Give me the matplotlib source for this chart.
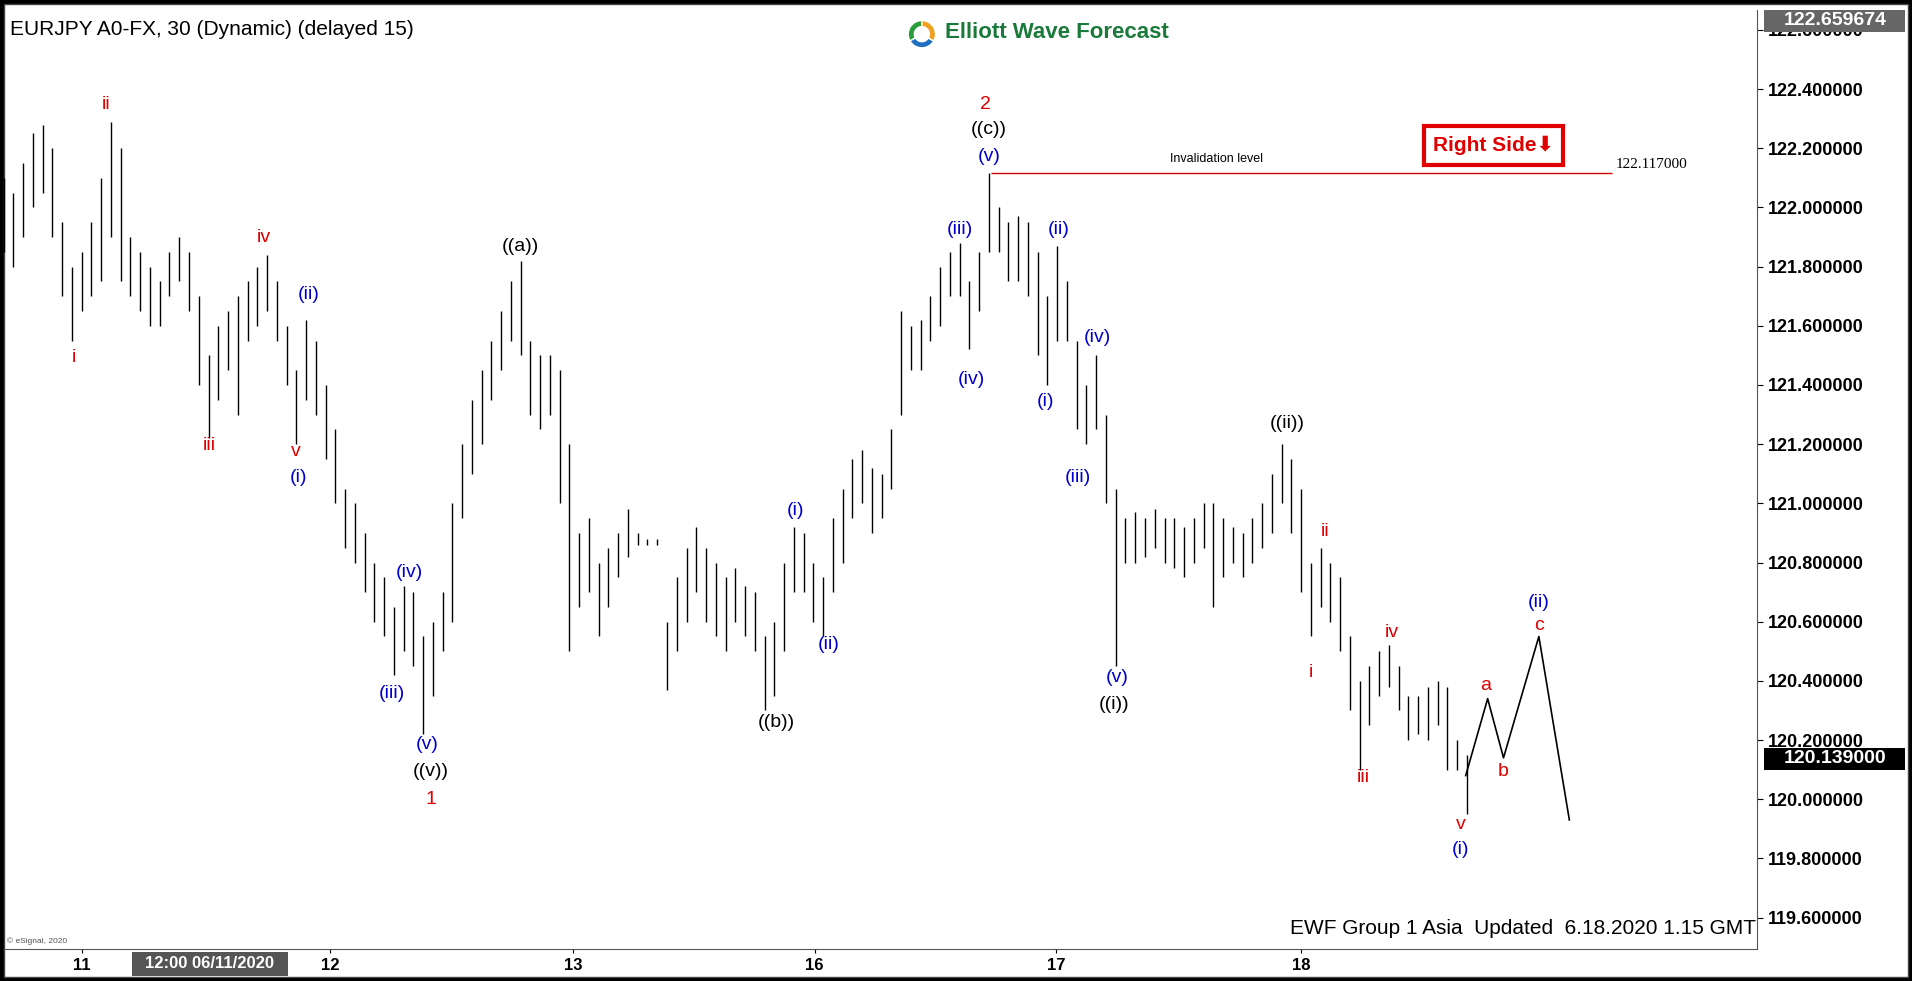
import matplotlib
matplotlib.use("Agg")
import matplotlib.pyplot as plt
from matplotlib.patches import Rectangle
import numpy as np

plt.rcParams['font.family'] = ['Liberation Sans', 'DejaVu Sans']

lows = [121.85,121.8,121.9,122.0,122.05,121.9,121.7,121.55,121.65,121.7,121.75,121.9,121.75,121.7,121.65,121.6,121.6,121.7,121.75,121.65,
        121.4,121.22,121.35,121.45,121.3,121.55,121.6,121.65,121.55,121.4,121.2,121.35,121.3,121.15,121.0,120.85,120.8,120.7,120.6,120.55,
        120.42,120.5,120.45,120.22,120.35,120.5,120.6,120.95,121.1,121.2,121.35,121.45,121.55,121.5,121.3,121.25,121.3,121.0,120.5,120.65,
        120.7,120.55,120.65,120.75,120.82,120.86,120.86,120.86,120.37,120.5,120.6,120.7,120.6,120.55,120.5,120.6,120.55,120.5,120.3,120.35,
        120.5,120.7,120.7,120.6,120.55,120.7,120.8,120.95,121.0,120.9,120.95,121.05,121.3,121.45,121.45,121.55,121.6,121.7,121.7,121.52,
        121.65,121.85,121.85,121.75,121.75,121.7,121.5,121.4,121.55,121.55,121.25,121.2,121.25,121.0,120.45,120.8,120.8,120.82,120.85,120.8,
        120.78,120.75,120.8,120.85,120.65,120.75,120.8,120.75,120.8,120.85,120.9,121.0,120.9,120.7,120.55,120.65,120.6,120.5,120.3,120.1,
        120.25,120.35,120.38,120.3,120.2,120.22,120.2,120.25,120.1,120.1,119.95]
highs = [122.1,122.05,122.15,122.25,122.28,122.2,121.95,121.8,121.85,121.95,122.1,122.29,122.2,121.9,121.85,121.8,121.75,121.85,121.9,121.85,
         121.7,121.5,121.6,121.65,121.7,121.75,121.8,121.84,121.75,121.6,121.45,121.62,121.55,121.4,121.25,121.05,121.0,120.9,120.8,120.75,
         120.65,120.72,120.7,120.55,120.6,120.7,121.0,121.2,121.35,121.45,121.55,121.65,121.75,121.82,121.55,121.5,121.5,121.45,121.2,120.9,
         120.95,120.8,120.85,120.9,120.98,120.9,120.88,120.88,120.6,120.75,120.85,120.92,120.85,120.8,120.75,120.78,120.72,120.7,120.55,120.6,
         120.8,120.92,120.9,120.8,120.75,120.95,121.05,121.15,121.18,121.12,121.1,121.25,121.65,121.6,121.62,121.7,121.8,121.85,121.88,121.75,
         121.85,122.117,122.0,121.95,121.97,121.95,121.85,121.7,121.87,121.75,121.55,121.4,121.5,121.3,121.05,120.95,120.97,120.95,120.98,120.95,
         120.95,120.92,120.95,121.0,121.0,120.95,120.92,120.9,120.95,121.0,121.1,121.2,121.15,121.05,120.8,120.85,120.8,120.75,120.55,120.4,
         120.45,120.5,120.52,120.45,120.35,120.35,120.38,120.4,120.38,120.2,120.15]
proj_x = [1202, 1220, 1233, 1262, 1287]
proj_y = [120.08, 120.34, 120.14, 120.55, 119.93]
yticks = [119.6,119.8,120.0,120.2,120.4,120.6,120.8,121.0,121.2,121.4,121.6,121.8,122.0,122.2,122.4,122.6]
day_ticks = [(67, "11"), (271, "12"), (470, "13"), (668, "16"), (866, "17"), (1067, "18")]
labels = [("ii",87,86,'r'),("i",61,293,'r'),("iv",216,195,'r'),("iii",172,365,'r'),("v",243,370,'r'),("(i)",245,391,'b'),
          ("(ii)",253,241,'b'),("(iv)",336,469,'b'),("(iii)",321,568,'b'),("(v)",350,610,'b'),("((v))",353,632,'k'),("1",353,655,'r'),
          ("((a))",427,202,'k'),("((b))",637,592,'k'),("(i)",652,418,'b'),("(ii)",680,528,'b'),("(iii)",787,188,'b'),("(iv)",797,311,'b'),
          ("(v)",811,128,'b'),("((c))",811,106,'k'),("2",808,86,'r'),("(ii)",868,188,'b'),("(i)",857,329,'b'),("(iv)",900,277,'b'),
          ("(iii)",884,391,'b'),("(v)",916,555,'b'),("((i))",914,577,'k'),("((ii))",1056,347,'k'),("ii",1087,436,'r'),("i",1075,551,'r'),
          ("iv",1141,518,'r'),("iii",1118,637,'r'),("v",1198,676,'r'),("(i)",1198,696,'b'),("a",1218,562,'r'),("b",1233,632,'r'),
          ("c",1262,513,'r'),("(ii)",1262,494,'b')]
cols = {'r': '#e00000', 'b': '#0000cc', 'k': 'black'}

W, H = 1568, 804
fig = plt.figure(figsize=(19.12, 9.81), dpi=100, facecolor='black')
def fx(x): return x / W
def fy(y): return 1 - y / H

fig.patches.append(Rectangle((fx(3), fy(801)), fx(1562), 798 / H, transform=fig.transFigure,
                             facecolor='white', edgecolor='#444', lw=1, zorder=-5))
ax = fig.add_axes([fx(3), fy(778), fx(1441 - 3), (778 - 8) / H])
ax.set_zorder(1)
ax.patch.set_alpha(0)
xs = [3 + 8 * i for i in range(len(lows))]
ax.vlines(xs, lows, highs, color='black', lw=1.0)
ax.plot(proj_x, proj_y, color='black', lw=1.2)
ax.hlines(122.117, 813, 1322, color='#d00000', lw=1)
ax.set_xlim(3, 1441)
ax.set_ylim(119.493, 122.668)
ax.yaxis.tick_right()
ax.set_yticks(yticks)
ax.set_yticklabels([f"{v:.6f}" for v in yticks], fontsize=13, fontweight='bold')
ax.tick_params(axis='y', length=4, pad=4)
ax.set_xticks([p for p, _ in day_ticks])
ax.set_xticklabels([t for _, t in day_ticks], fontsize=12, fontweight='bold')
ax.tick_params(axis='x', length=3, pad=3)
for s in ['top', 'left']:
    ax.spines[s].set_visible(False)
ax.spines['right'].set_color('#555')
ax.spines['bottom'].set_color('#555')

for t, x, y, c in labels:
    fig.text(fx(x), fy(y), t, color=cols[c], fontsize=14, ha='center', va='center', zorder=3)

fig.text(fx(8), fy(24), "EURJPY A0-FX, 30 (Dynamic) (delayed 15)", fontsize=15, va='center', ha='left')
fig.text(fx(775), fy(27), "Elliott Wave Forecast", fontsize=16, fontweight='bold', color='#1a7a3a', va='center', ha='left')
lax = fig.add_axes([fx(742), fy(42), fx(28), 28 / H])
lax.pie([1, 1, 1], colors=['#2a9d3a', '#1e6fc0', '#f0a020'], startangle=90,
        wedgeprops=dict(width=0.45, edgecolor='white'))
lax.set_aspect('equal')
fig.text(fx(998), fy(130), "Invalidation level", fontsize=9, ha='center', va='center')
fig.text(fx(1325), fy(135), "122.117000", fontsize=11, ha='left', va='center', family=['Liberation Serif'])
fig.patches.append(Rectangle((fx(1168), fy(135)), fx(114), 32 / H, transform=fig.transFigure,
                             facecolor='white', edgecolor='#e00000', lw=3, zorder=2))
fig.text(fx(1225), fy(119), "Right Side\u2b07", fontsize=15, fontweight='bold', color='#e00000',
         ha='center', va='center', family=['Liberation Sans', 'DejaVu Sans'], zorder=3)
fig.text(fx(1440), fy(761), "EWF Group 1 Asia  Updated  6.18.2020 1.15 GMT", fontsize=15, ha='right', va='center', zorder=3)
fig.text(fx(6), fy(771), "© eSignal, 2020", fontsize=6, color='#555', ha='left', va='center')

fig.patches.append(Rectangle((fx(1447), fy(26)), fx(115), 18 / H, transform=fig.transFigure, facecolor='#666', zorder=5))
fig.text(fx(1505), fy(17), "122.659674", fontsize=14, fontweight='bold', color='white', ha='center', va='center', zorder=6)
fig.patches.append(Rectangle((fx(1447), fy(631)), fx(115), 18 / H, transform=fig.transFigure, facecolor='black', zorder=5))
fig.text(fx(1505), fy(622), "120.139000", fontsize=14, fontweight='bold', color='white', ha='center', va='center', zorder=6)
fig.patches.append(Rectangle((fx(108), fy(800)), fx(128), 20 / H, transform=fig.transFigure, facecolor='#555', zorder=5))
fig.text(fx(172), fy(790), "12:00 06/11/2020", fontsize=12, fontweight='bold', color='white', ha='center', va='center', zorder=6)

fig.savefig("out.png", dpi=100, facecolor='black')
